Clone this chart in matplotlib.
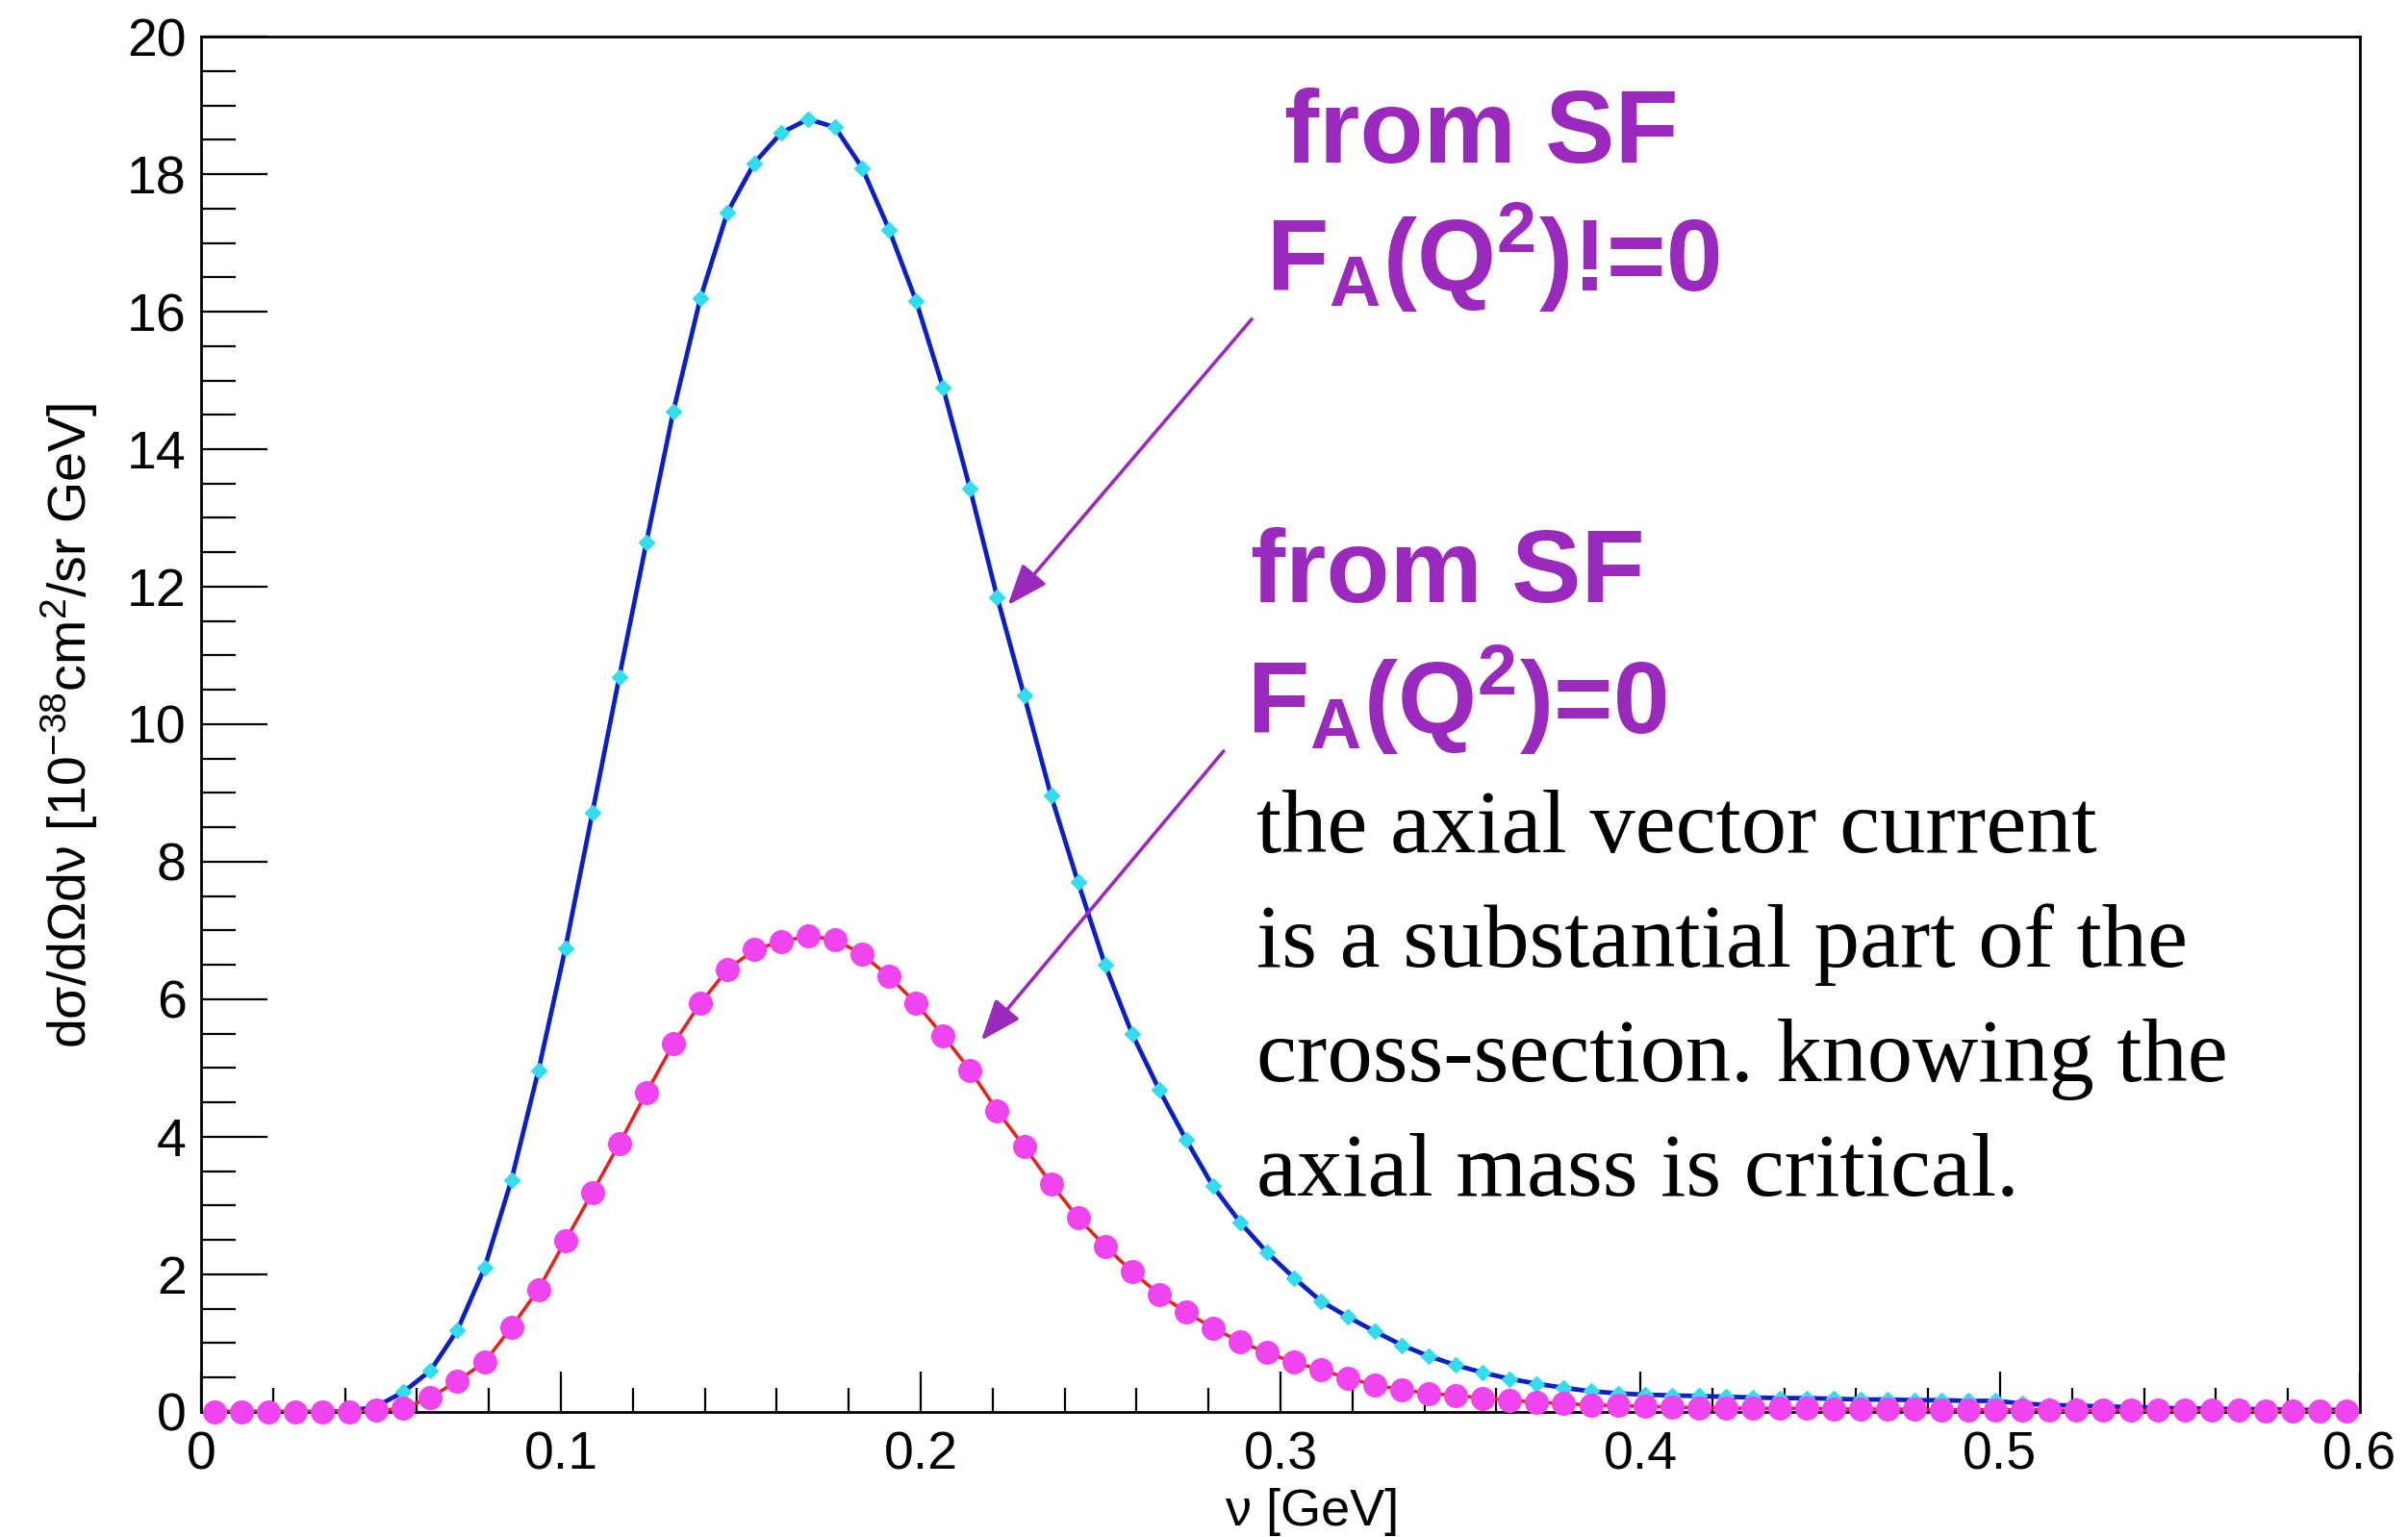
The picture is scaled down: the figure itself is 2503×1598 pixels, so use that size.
import numpy as np
import matplotlib.pyplot as plt
from matplotlib.ticker import MultipleLocator

plt.rcParams['font.family'] = ['Liberation Sans', 'DejaVu Sans']
plt.rcParams['mathtext.fontset'] = 'custom'
plt.rcParams['mathtext.rm'] = 'Liberation Sans'
plt.rcParams['mathtext.it'] = 'Liberation Sans:italic'
plt.rcParams['mathtext.bf'] = 'Liberation Sans:bold'

# energy transfer binning: 80 bins between 0 and 0.6 GeV
nu_edges = np.linspace(0.0, 0.6, 81)
nu = 0.5 * (nu_edges[:-1] + nu_edges[1:])

# dsigma/dOmega dnu from the spectral function, axial form factor on
xsec_fa = [0, 0, 0, 0, 0,
           0.01, 0.08, 0.29, 0.60, 1.19, 2.09, 3.37, 4.96, 6.74, 8.71, 10.69,
           12.64, 14.55, 16.19, 17.44, 18.16, 18.60, 18.80, 18.68, 18.09, 17.19,
           16.15, 14.89, 13.42, 11.85,
           10.42, 8.96, 7.70, 6.50, 5.50, 4.69, 3.96, 3.28, 2.76, 2.32, 1.95,
           1.61, 1.38, 1.17, 0.97, 0.81, 0.68, 0.57, 0.48,
           0.41, 0.35, 0.30, 0.27, 0.25, 0.24, 0.23, 0.22, 0.21, 0.20, 0.20,
           0.19, 0.18, 0.18, 0.17, 0.17, 0.16, 0.16,
           0.12, 0.10, 0.09, 0.08, 0.07, 0.06, 0.05, 0.05, 0.04, 0.04, 0.03,
           0.03, 0.03]

# same, with F_A(Q^2) = 0
xsec_nofa = [0, 0, 0, 0, 0,
             0.0, 0.02, 0.05, 0.21, 0.45, 0.72, 1.23, 1.78, 2.49, 3.19, 3.90,
             4.64, 5.35, 5.94, 6.43, 6.72, 6.84, 6.92, 6.87, 6.65, 6.33, 5.94,
             5.47, 4.97, 4.38,
             3.86, 3.32, 2.82, 2.41, 2.04, 1.71, 1.45, 1.22, 1.02, 0.86, 0.72,
             0.61, 0.49, 0.39, 0.32, 0.27, 0.24, 0.20, 0.17,
             0.14, 0.12, 0.10, 0.09, 0.08, 0.07,
             0.06, 0.06, 0.05, 0.05, 0.05, 0.04, 0.04, 0.04, 0.04, 0.03, 0.03,
             0.03, 0.03, 0.03, 0.02, 0.02, 0.02, 0.02, 0.02, 0.02, 0.02, 0.01,
             0.01, 0.01, 0.01]

purple = '#9a2abe'

fig = plt.figure(figsize=(25.03, 15.98), dpi=100)
ax = fig.add_axes([0.0835, 0.0814, 0.8965, 0.8948])

ax.plot(nu, xsec_fa, color='#0a1fc8', lw=3.4, zorder=2)
ax.plot(nu, xsec_fa, ls='none', marker='D', ms=8, color='#33ddee',
        mec='#33ddee', zorder=3, clip_on=False)
ax.plot(nu, xsec_nofa, color='#e8231e', lw=2.6, zorder=4)
ax.plot(nu, xsec_nofa, ls='none', marker='o', ms=17, color='#f044f0',
        mec='#f044f0', zorder=5, clip_on=False)

ax.set_xlim(0, 0.6)
ax.set_ylim(0, 20)
ax.xaxis.set_minor_locator(MultipleLocator(0.02))
ax.yaxis.set_major_locator(MultipleLocator(2))
ax.yaxis.set_minor_locator(MultipleLocator(0.5))
ax.set_xticks([0, 0.1, 0.2, 0.3, 0.4, 0.5, 0.6])
ax.set_xticklabels(['0', '0.1', '0.2', '0.3', '0.4', '0.5', '0.6'])
ax.tick_params(which='both', direction='in', top=False, right=False,
               width=1.6, color='black', labelsize=40)
ax.tick_params(axis='x', which='major', length=30, pad=14)
ax.tick_params(axis='x', which='minor', length=18)
ax.tick_params(axis='y', which='major', length=50, pad=11)
ax.tick_params(axis='y', which='minor', length=26)
for s in ax.spines.values():
    s.set_linewidth(2.0)

fig.text(0.545, 0.016, 'ν [GeV]', fontsize=39, ha='center', va='center')
fig.text(0.029, 0.528, 'dσ/dΩdν [10$^{\\mathrm{-38}}$cm$^{\\mathrm{2}}$/sr GeV]',
         fontsize=40, rotation=90, ha='center', va='center')

# labels for the two curves
ax.text(0.3011, 18.17, 'from SF', color=purple, fontsize=78,
        fontweight='bold', va='baseline')
ax.text(0.296, 16.29, r'F$_\mathbf{A}$(Q$^\mathbf{2}$)!=0', color=purple,
        fontsize=76, fontweight='bold', va='baseline')
ax.text(0.2917, 11.78, 'from SF', color=purple, fontsize=78,
        fontweight='bold', va='baseline')
ax.text(0.2906, 9.86, r'F$_\mathbf{A}$(Q$^\mathbf{2}$)=0', color=purple,
        fontsize=76, fontweight='bold', va='baseline')

arrow = dict(arrowstyle='-|>,head_length=1.3,head_width=0.5', lw=2.6,
             color=purple, mutation_scale=20, shrinkA=0, shrinkB=0)
ax.annotate('', xy=(0.2242, 11.73), xytext=(0.292, 15.89), arrowprops=arrow)
ax.annotate('', xy=(0.2168, 5.40), xytext=(0.2842, 9.61), arrowprops=arrow)

note = ['the axial vector current',
        'is a substantial part of the',
        'cross-section. knowing the',
        'axial mass is critical.']
for i, line in enumerate(note):
    ax.text(0.2933, 8.14 - i * 1.665, line, family='Liberation Serif',
            fontsize=68, color='black', va='baseline')

fig.savefig('out.png', dpi=100)
